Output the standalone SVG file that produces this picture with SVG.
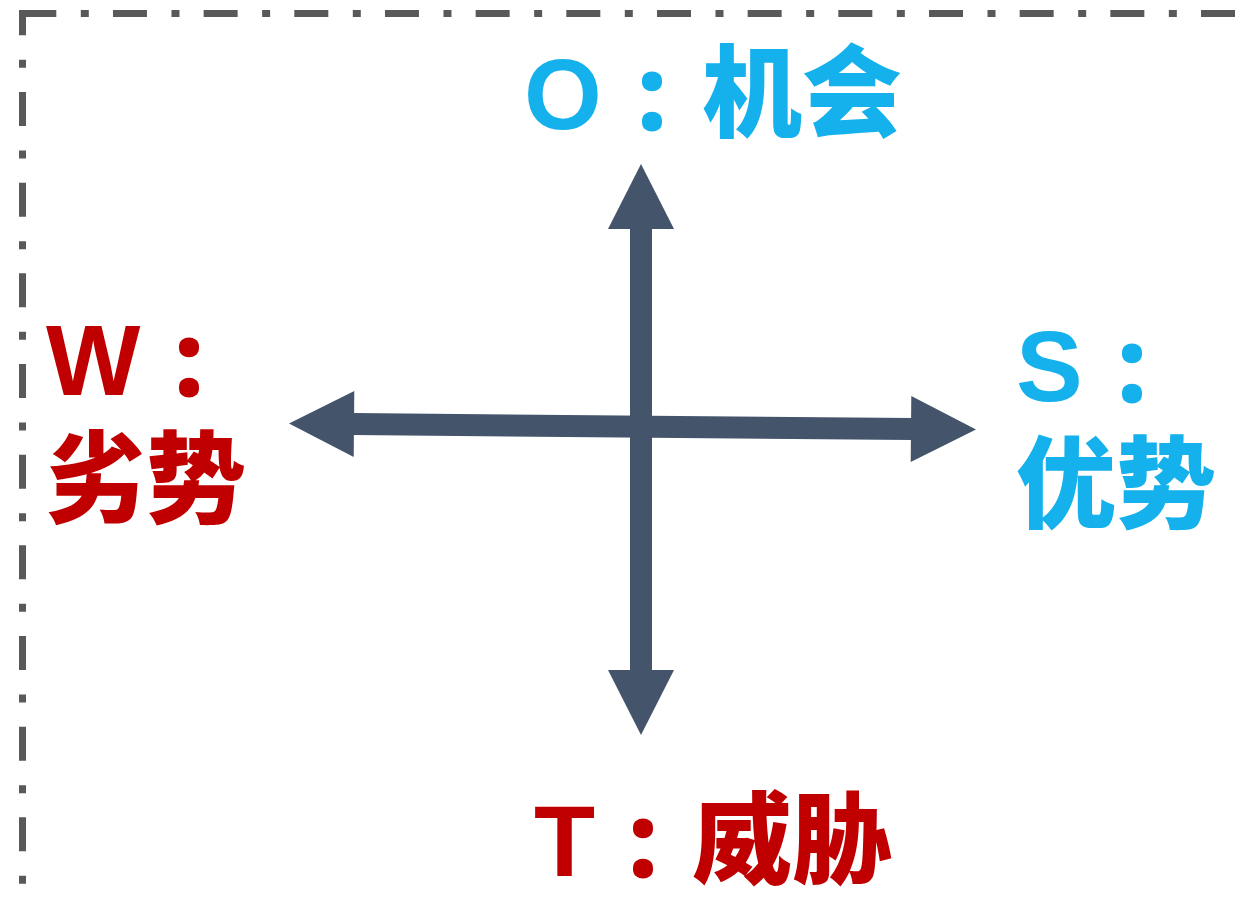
<svg xmlns="http://www.w3.org/2000/svg" width="1245" height="902" viewBox="0 0 1245 902">
  <style>
    .frame { stroke: #595959; stroke-width: 7; fill: none; stroke-dasharray: 34 24.5 8 24.17; }
    .lbl { font-family: "Liberation Sans", "Noto Sans CJK SC", sans-serif; font-weight: bold; font-size: 100px; }
    .colon { font-family: "Open Sans", "Noto Sans", sans-serif; font-weight: bold; font-size: 100px; text-anchor: middle; stroke-width: 3; stroke-linejoin: round; }
    .cn { font-family: "Noto Sans CJK SC", sans-serif; font-weight: 900; }
    .cyan { fill: #14b1ec; }
    .red { fill: #c00000; }
    .colon.cyan { stroke: #14b1ec; }
    .colon.red { stroke: #c00000; }
    .axis { stroke: #44546a; stroke-width: 22; fill: none; marker-start: url(#head); marker-end: url(#head); }
  </style>
  <defs>
    <marker id="head" markerUnits="userSpaceOnUse" markerWidth="66" markerHeight="66" viewBox="0 0 65 66" refX="1" refY="33" orient="auto-start-reverse" overflow="visible">
      <path d="M0,0 L65,33 L0,66 z" fill="#44546a"/>
    </marker>
  </defs>
  <rect width="1245" height="902" fill="#ffffff"/>
  <g id="frame">
    <line class="frame" x1="22.5" y1="10" x2="22.5" y2="902" stroke-dashoffset="8.7"/>
    <line class="frame" x1="19" y1="13.5" x2="1245" y2="13.5" stroke-dashoffset="-3.3"/>
  </g>
  <g id="connectors">
    <line class="axis" x1="641" y1="671" x2="641" y2="228"/>
    <line class="axis" x1="353" y1="424" x2="912" y2="429"/>
  </g>
  <g id="node-O">
    <text class="lbl cyan" x="524" y="129">O</text>
    <text class="colon cyan" x="652" y="129">:</text>
    <text class="lbl cn cyan" x="702" y="129">机会</text>
  </g>
  <g id="node-W">
    <text class="lbl red" x="46" y="395">W</text>
    <text class="colon red" x="189" y="395">:</text>
    <text class="lbl cn red" x="46" y="515">劣势</text>
  </g>
  <g id="node-S">
    <text class="lbl cyan" x="1016" y="401">S</text>
    <text class="colon cyan" x="1132" y="401">:</text>
    <text class="lbl cn cyan" x="1016" y="520">优势</text>
  </g>
  <g id="node-T">
    <text class="lbl red" x="534" y="876">T</text>
    <text class="colon red" x="643" y="876">:</text>
    <text class="lbl cn red" x="692" y="876">威胁</text>
  </g>
</svg>
